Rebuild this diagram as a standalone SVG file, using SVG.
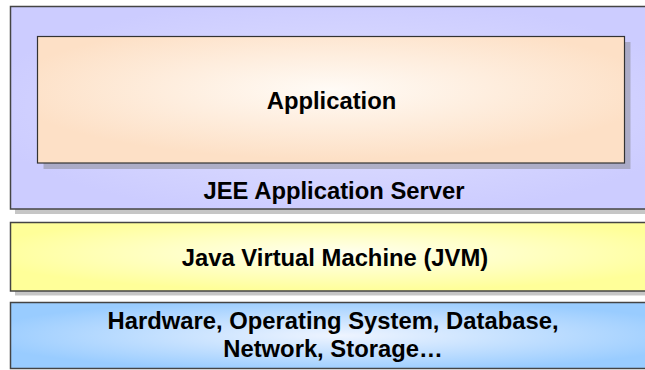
<svg xmlns="http://www.w3.org/2000/svg" width="645" height="370" viewBox="0 0 645 370">
  <defs>
    <radialGradient id="gServer" cx="0.5" cy="0.5" r="0.55">
      <stop offset="0" stop-color="#e2e2ff"/>
      <stop offset="1" stop-color="#ccccff"/>
    </radialGradient>
    <radialGradient id="gApp" cx="0.5" cy="0.42" r="0.55">
      <stop offset="0" stop-color="#fffbf6"/>
      <stop offset="1" stop-color="#fde0c6"/>
    </radialGradient>
    <radialGradient id="gJvm" cx="0.5" cy="0.45" r="0.55">
      <stop offset="0" stop-color="#fffff0"/>
      <stop offset="1" stop-color="#ffff99"/>
    </radialGradient>
    <radialGradient id="gHw" cx="0.5" cy="0.5" r="0.55">
      <stop offset="0" stop-color="#eef4ff"/>
      <stop offset="1" stop-color="#99ccff"/>
    </radialGradient>
  </defs>
  <style>
    .box { stroke: #444; stroke-width: 1.5; }
    .shadow { fill: #808080; fill-opacity: 0.45; }
    .lbl { font-family: "Liberation Sans", Arial, sans-serif; font-weight: bold; font-size: 23.8px; fill: #000; text-anchor: middle; }
  </style>
  <rect width="645" height="370" fill="#ffffff"/>

  <g id="server">
    <rect class="shadow" x="15" y="11" width="660" height="203"/>
    <rect class="box" x="10.5" y="6.5" width="660" height="202.5" fill="url(#gServer)"/>
    <text class="lbl" x="334" y="199">JEE Application Server</text>
  </g>

  <g id="application">
    <rect class="shadow" x="43.5" y="42" width="587" height="127"/>
    <rect class="box" x="37.5" y="36.5" width="587" height="126.5" fill="url(#gApp)" style="stroke:#333;stroke-width:1.2"/>
    <text class="lbl" x="331.5" y="109">Application</text>
  </g>

  <g id="jvm">
    <rect class="shadow" x="15" y="227" width="660" height="68.5"/>
    <rect class="box" x="10.5" y="222.5" width="660" height="68.5" fill="url(#gJvm)"/>
    <text class="lbl" x="335" y="266">Java Virtual Machine (JVM)</text>
  </g>

  <g id="hardware">
    <rect class="box" x="10.5" y="302.5" width="660" height="66" fill="url(#gHw)"/>
    <text class="lbl" x="333" y="329">Hardware, Operating System, Database,</text>
    <text class="lbl" x="333" y="357">Network, Storage…</text>
  </g>

  <g id="connectors"/>
</svg>
